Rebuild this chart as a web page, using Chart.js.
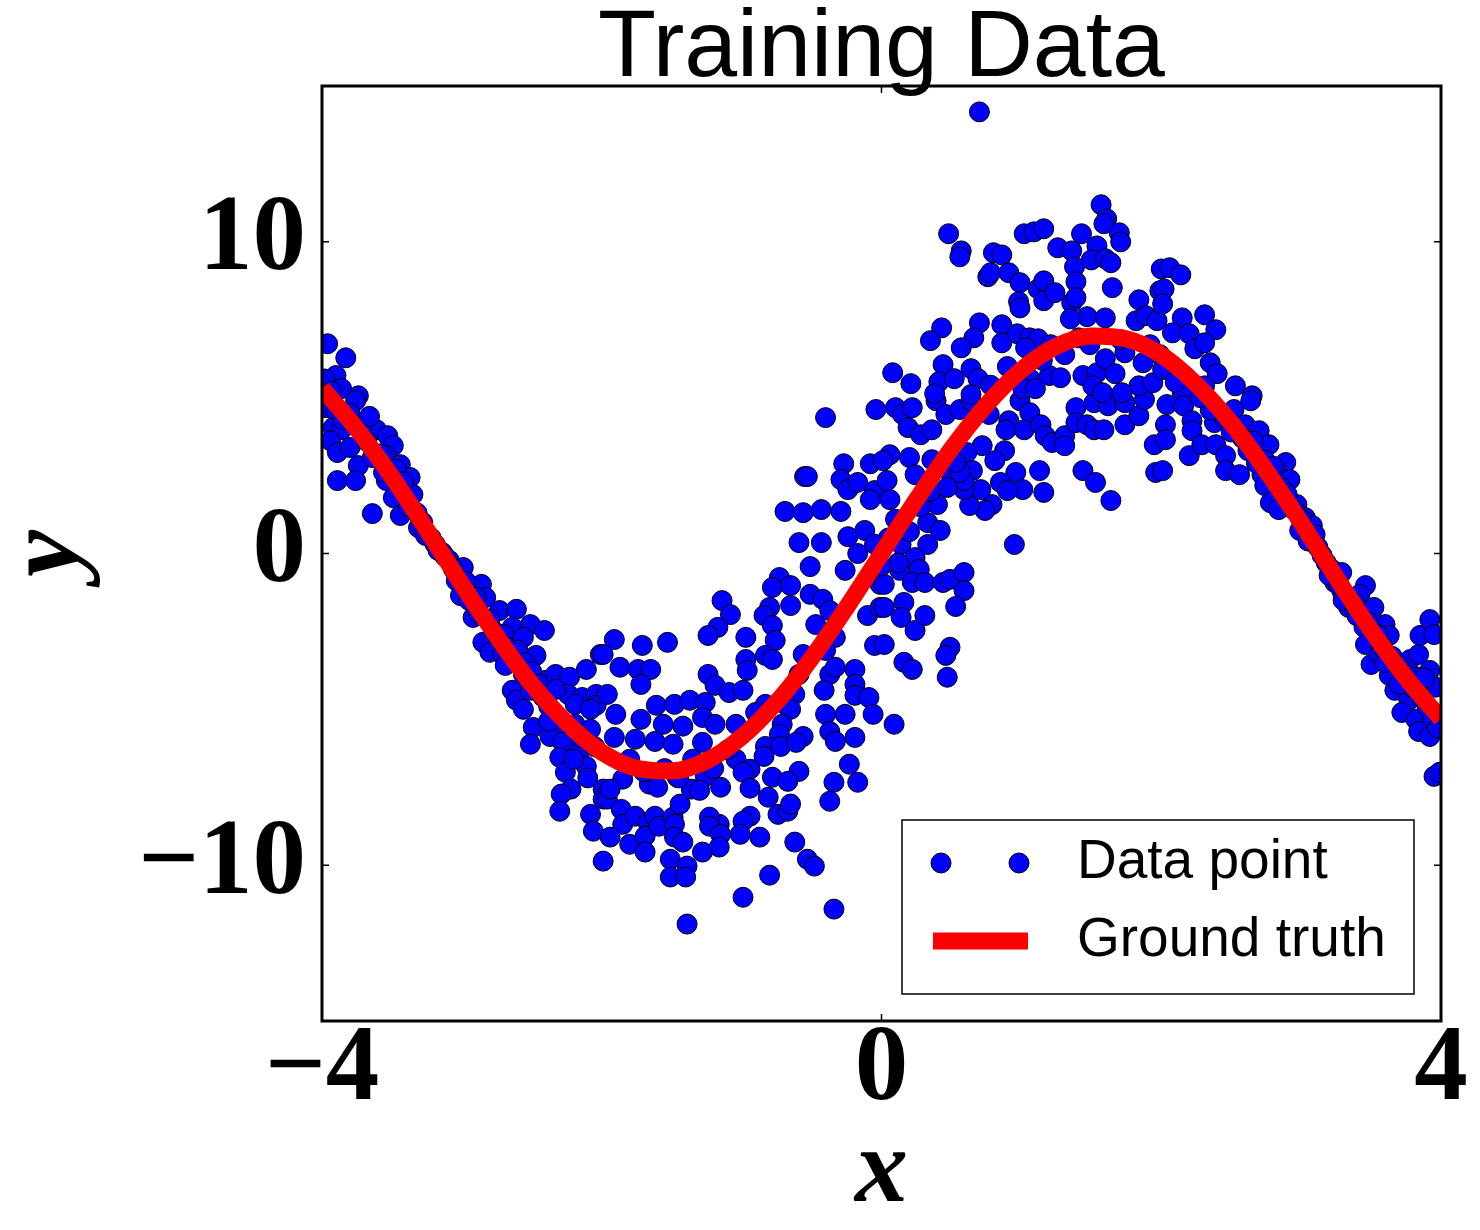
<!DOCTYPE html>
<html>
<head>
<meta charset="utf-8">
<title>Training Data</title>
<script src="https://cdn.jsdelivr.net/npm/chart.js@4.4.1/dist/chart.umd.min.js"></script>
<style>
  html, body { margin: 0; padding: 0; background: #fff; }
  #wrap { width: 1480px; height: 1230px; }
</style>
</head>
<body>
<div id="wrap"><canvas id="trainChart" width="1480" height="1230"></canvas></div>
<script>
// Ticks and labels
const xTicks = [-4, 0, 4];
const yTicks = [-10, 0, 10];
const legendLabels = ['Data point', 'Ground truth'];

// Ground truth curve
const truthX = [-4, -3.75, -3.5, -3.25, -3, -2.75, -2.5, -2.25, -2, -1.75, -1.5, -1.25, -1, -0.75, -0.5, -0.25,
  0, 0.25, 0.5, 0.75, 1, 1.25, 1.5, 1.75, 2, 2.25, 2.5, 2.75, 3, 3.25, 3.5, 3.75, 4];
const truthY = [5.30, 3.99, 2.46, 0.76, -0.99, -2.66, -4.19, -5.43, -6.37, -6.89, -6.98, -6.65, -5.89, -4.77, -3.36, -1.73,
  0, 1.73, 3.36, 4.77, 5.89, 6.65, 6.98, 6.89, 6.37, 5.43, 4.19, 2.66, 0.99, -0.76, -2.46, -3.99, -5.30];

// Noisy samples [x, y]
const samplePoints = [
  // x -4 .. -2
  [-3.96,6.73],[-3.83,6.28],[-3.90,5.71],[-3.86,5.29],[-3.74,5.06],[-3.97,4.68],[-3.90,4.58],[-3.76,4.90],
  [-3.92,4.04],[-3.86,3.97],[-3.94,3.62],[-3.89,3.24],[-3.80,3.40],[-3.74,2.82],[-3.89,2.34],[-3.76,2.34],
  [-3.61,3.97],[-3.53,3.78],[-3.49,3.46],[-3.54,3.14],[-3.64,3.08],[-3.44,2.85],[-3.37,2.44],[-3.54,2.34],
  [-3.35,1.89],[-3.49,1.79],[-3.64,1.28],[-3.44,1.22],[-3.31,0.83],[-3.26,0.58],[-3.19,0.29],[-3.14,0.03],
  [-3.09,-0.22],[-2.99,-0.45],[-3.04,-0.87],[-3.01,-1.35],[-2.86,-0.99],[-2.83,-1.41],[-2.92,-2.05],[-2.73,-1.83],
  [-2.61,-1.79],[-2.64,-2.37],[-2.51,-2.28],[-2.41,-2.47],[-2.85,-2.85],[-2.80,-3.17],[-2.71,-3.24],[-2.56,-2.69],
  [-2.47,-3.27],[-2.69,-3.59],[-2.56,-3.88],[-2.64,-4.39],[-2.61,-4.71],[-2.51,-4.39],[-2.40,-4.07],[-2.33,-3.88],
  [-2.23,-3.97],[-2.11,-3.72],[-2.01,-3.24],[-2.24,-4.52],[-2.14,-4.62],[-2.04,-4.52],[-2.04,-4.87],
  [-3.98,5.6],[-3.93,5.2],[-3.85,4.3],[-3.8,4.5],[-3.72,4.1],[-3.68,3.6],[-3.66,4.4],[-3.58,3.2],[-3.56,2.6],
  [-3.47,2.7],[-3.42,2.3],[-3.38,1.5],[-3.32,1.3],[-3.28,1.0],[-3.22,0.5],[-3.17,0.1],[-3.12,-0.1],[-3.06,-0.5],
  [-2.97,-0.9],[-2.95,-1.5],[-2.9,-1.4],[-2.88,-1.9],[-2.8,-2.1],[-2.77,-2.5],[-2.7,-2.6],[-2.68,-3.0],[-2.6,-3.1],
  [-2.55,-3.5],[-2.5,-3.8],[-2.45,-4.2],[-2.42,-4.6],[-2.38,-4.9],[-2.35,-5.2],[-2.3,-5.6],
  [-2.56,-5.0],[-2.49,-5.58],[-2.51,-6.12],[-2.37,-5.87],[-2.28,-6.06],[-2.30,-6.54],[-2.26,-7.02],[-2.22,-7.56],
  [-2.29,-7.72],[-2.30,-8.27],[-2.16,-6.35],[-2.08,-8.37],[-2.06,-8.91],[-1.99,-9.87],[-1.99,-7.56],[-1.99,-7.88],
  [-2.11,-6.83],[-2.38,-5.38],[-2.19,-5.48],[-2.08,-5.64],[-2.33,-4.36],[-2.19,-4.84],[-2.08,-5.0],[-2.15,-5.9],
  [-2.05,-6.2],[-2.2,-6.6],[-2.1,-7.2],
  // x -2 .. 0
  [-0.40,4.36],[-0.04,4.62],[-0.55,2.47],[-0.53,2.47],[-0.27,2.88],[-0.29,2.37],[-0.24,2.05],[-0.17,2.28],
  [-0.08,2.88],[-0.05,2.02],[-0.08,1.73],[-0.69,1.35],[-0.56,1.31],[-0.43,1.41],[-0.29,1.35],[-0.59,0.35],
  [-0.43,0.35],[-0.24,0.54],[-0.12,0.74],[-0.17,0.0],[-0.51,-0.42],[-0.26,-0.54],[-0.01,-0.99],[-0.73,-0.77],
  [-0.78,-1.09],[-0.65,-1.03],[-0.65,-1.67],[-0.51,-1.31],[-0.42,-1.47],[-0.80,-1.73],[-0.84,-1.99],[-0.78,-2.31],
  [-0.76,-2.79],[-0.83,-3.27],[-0.78,-3.40],[-1.14,-1.51],[-1.08,-1.96],[-1.17,-2.37],[-1.24,-2.63],[-0.97,-2.69],
  [-0.97,-3.40],[-0.96,-3.75],[-1.24,-3.88],[-1.19,-4.23],[-1.09,-4.46],[-0.99,-4.39],[-1.91,-2.76],[-1.99,-3.24],
  [-1.71,-2.95],[-1.53,-2.85],[-1.87,-3.65],[-1.74,-3.72],[-1.65,-3.72],[-1.72,-4.20],[-1.96,-4.52],[-1.61,-4.87],
  [-1.48,-4.84],[-1.37,-4.71],[-1.26,-4.78],[-0.56,-3.24],[-0.47,-2.28],[-0.37,-1.83],[-0.33,-2.69],[-0.40,-3.11],
  [-0.59,-3.88],[-0.37,-3.88],[-0.41,-4.39],[-0.33,-3.65],[-0.19,-3.72],[-0.19,-4.20],[-0.19,-4.55],[-0.09,-4.62],
  [-0.05,-2.95],[-0.10,-1.99],[-0.01,-1.73],[-0.62,-4.52],[-0.83,-4.84],[-0.69,-4.84],
  [-1.90,-5.16],[-1.72,-5.32],[-1.56,-5.48],[-1.42,-5.54],[-1.28,-5.26],[-1.19,-5.48],[-1.91,-5.90],[-1.76,-5.96],
  [-1.62,-6.03],[-1.49,-6.12],[-1.28,-6.06],[-1.04,-5.48],[-0.90,-5.10],[-0.65,-5.0],[-0.71,-5.48],[-0.73,-5.80],
  [-0.56,-5.87],[-0.40,-5.16],[-0.26,-5.16],[-0.06,-5.16],[-0.37,-5.71],[-0.33,-6.03],[-0.19,-5.90],[-0.83,-6.19],
  [-0.84,-6.51],[-0.72,-6.19],[-0.61,-6.06],[-1.04,-6.60],[-0.94,-6.92],[-0.99,-7.02],[-0.59,-6.99],[-0.78,-7.18],
  [-0.67,-7.31],[-0.23,-6.76],[-0.34,-7.34],[-0.17,-7.34],[-0.37,-7.95],[-0.94,-7.53],[-0.81,-7.82],[-0.74,-8.37],
  [-0.67,-8.27],[-0.65,-8.04],[-0.94,-8.43],[-0.99,-8.59],[-1.01,-9.01],[-0.87,-9.10],[-1.16,-8.69],[-1.23,-8.46],
  [-1.23,-8.75],[-1.15,-9.01],[-1.16,-9.42],[-1.28,-9.58],[-0.62,-9.26],[-0.53,-9.81],[-0.48,-10.03],[-0.80,-10.32],
  [-0.99,-11.03],[-1.39,-11.89],[-0.34,-11.41],[-1.96,-7.88],[-1.86,-8.21],[-1.85,-8.69],[-1.80,-9.33],[-1.94,-9.10],
  [-1.76,-8.43],[-1.67,-8.62],[-1.69,-9.07],[-1.69,-9.58],[-1.62,-8.43],[-1.59,-8.75],[-1.49,-8.46],[-1.48,-8.69],
  [-1.48,-9.10],[-1.42,-9.26],[-1.51,-9.81],[-1.39,-10.03],[-1.51,-10.38],[-1.40,-10.38],[-1.66,-7.40],[-1.44,-8.04],
  [-1.36,-7.56],[-1.26,-7.15],[-1.85,-7.24],[-1.94,-7.56],[-1.46,-7.18],
  [-1.55,-6.9],[-1.45,-7.2],[-1.35,-6.6],[-1.2,-6.9],[-1.1,-6.3],[-1.6,-7.5],[-1.8,-6.6],[-1.7,-7.0],[-1.3,-7.6],[-1.15,-7.5],
  // x 0 .. 2
  [0.10,4.68],[0.15,4.46],[0.22,4.68],[0.19,4.04],[0.28,3.81],[0.36,3.97],[0.39,4.90],[0.46,4.46],[0.56,4.62],
  [0.64,4.90],[0.77,4.46],[0.91,4.26],[0.89,3.97],[0.99,4.90],[1.06,4.52],[1.02,3.97],[1.14,4.13],[1.17,3.78],
  [1.22,3.56],[1.31,3.78],[1.31,3.46],[1.39,4.68],[1.39,4.20],[1.47,4.13],[1.52,4.84],[1.52,3.97],[1.59,3.97],
  [1.62,4.74],[1.74,4.13],[1.74,4.84],[1.84,4.42],[1.88,4.94],[1.95,3.49],[1.96,2.60],[1.44,2.66],[1.53,2.28],
  [1.64,1.70],[1.13,2.66],[1.16,1.96],[0.96,2.60],[1.01,2.05],[0.85,2.28],[0.90,2.02],[0.79,1.57],[0.74,1.38],
  [0.88,3.30],[0.81,2.98],[0.72,3.46],[0.61,3.24],[0.65,2.66],[0.71,2.05],[0.63,1.54],[0.59,2.05],[0.59,2.34],
  [0.49,2.60],[0.56,2.60],[0.47,2.12],[0.40,1.57],[0.53,2.92],[0.36,3.01],[0.06,3.17],[0.20,3.08],[0.01,2.98],
  [0.24,2.53],[0.04,2.34],[0.06,1.73],[0.33,0.99],[0.42,0.74],[0.33,0.29],[0.14,0.29],[0.24,-0.13],[0.27,-0.51],
  [0.13,-0.54],[0.22,-0.93],[0.31,-0.93],[0.44,-0.93],[0.49,-0.83],[0.59,-0.61],[0.59,-1.19],[0.53,-1.70],
  [0.02,-0.99],[0.02,-1.73],[0.16,-1.57],[0.14,-2.05],[0.24,-2.47],[0.31,-1.99],[0.02,-2.92],[0.49,-3.01],
  [0.46,-3.27],[0.16,-3.49],[0.22,-3.72],[0.47,-3.97],[0.95,0.29],[0.09,-5.48],
  [0.05,0.5],[0.1,1.1],[0.12,-0.3],[0.2,0.7],[0.28,1.5],[0.35,2.0],[0.0,-0.4],[-0.05,0.3],
  [0.70,14.17],[1.57,11.19],[1.61,10.74],[1.59,10.58],[1.70,10.29],[1.71,10.0],[0.48,10.26],[0.57,9.71],[0.56,9.52],
  [1.02,10.26],[1.09,10.32],[1.16,10.42],[1.43,10.26],[1.26,9.81],[1.36,9.71],[1.38,9.20],[1.39,8.72],[1.54,9.87],
  [1.50,9.42],[1.60,9.46],[1.64,9.33],[0.80,9.65],[0.86,9.58],[0.76,8.88],[0.78,9.01],[0.91,9.01],[0.99,8.69],
  [1.12,8.49],[1.16,8.75],[1.16,8.11],[1.24,8.37],[1.36,8.04],[1.39,8.21],[1.65,8.53],[1.84,8.14],[1.99,8.43],
  [2.0,9.13],[0.98,8.08],[0.99,7.88],[0.43,7.24],[0.70,7.40],[0.86,7.34],[0.35,6.83],[0.66,6.92],[0.57,6.60],
  [0.86,6.76],[0.97,7.05],[1.06,6.92],[1.12,6.89],[1.03,6.60],[1.47,7.60],[1.60,7.56],[1.35,7.53],[1.82,7.47],
  [1.89,7.63],[1.97,7.47],[0.08,5.80],[0.21,5.45],[0.44,6.06],[0.41,5.51],[0.52,5.61],[0.64,5.93],[0.69,5.61],
  [0.38,5.13],[0.64,5.10],[1.44,5.71],[1.54,5.80],[1.60,6.25],[1.67,5.77],[1.74,6.44],[1.87,6.12],[1.84,5.38],
  [1.94,5.48],[1.51,5.38],[1.58,5.16],[1.72,5.16],[1.20,5.71],[1.28,5.64],[1.06,5.61],[1.01,5.29],[1.10,5.29],
  [1.41,6.92],[1.21,6.70],[1.31,6.38],[1.49,6.70],[1.71,6.86],[1.92,6.70],[1.99,6.38],[0.9,6.0],[0.78,5.4],[1.15,6.2],
  // x 2 .. 4
  [2.06,9.17],[2.14,8.94],[2.02,8.49],[2.01,8.01],[2.15,7.56],[2.08,7.08],[2.20,7.05],[2.31,7.66],[2.39,7.18],
  [2.24,6.57],[2.31,6.76],[2.35,6.12],[2.40,5.77],[2.53,5.38],[2.65,5.06],[2.31,5.38],[2.15,5.16],[2.01,5.9],
  [2.04,4.78],[2.16,4.74],[2.22,4.26],[2.22,3.94],[2.03,4.13],[2.03,3.65],[2.01,2.66],[2.20,3.14],[2.29,3.49],
  [2.39,3.49],[2.38,4.20],[2.45,4.36],[2.52,4.62],[2.64,4.90],[2.46,3.14],[2.46,2.66],[2.56,2.53],[2.60,4.13],
  [2.70,3.94],[2.77,3.49],[2.71,3.01],[2.89,2.92],[2.72,2.53],[2.83,2.60],[2.92,2.37],[2.74,2.18],[2.78,1.63],
  [2.84,1.41],[2.97,1.57],[2.99,0.74],[3.03,1.15],[3.08,0.90],[3.10,0.61],[3.15,-0.06],[3.22,-0.51],[3.29,-0.61],
  [3.24,-0.93],[3.29,-1.19],[3.46,-1.03],[3.42,-1.31],[3.52,-1.73],[3.34,-1.73],[3.45,-2.37],[3.60,-2.28],
  [3.63,-2.63],[3.46,-2.92],[3.50,-3.56],[3.56,-3.24],[3.63,-3.91],[3.67,-4.39],[3.77,-4.71],[3.78,-3.40],
  [3.84,-3.24],[3.85,-2.63],[3.92,-2.12],[3.95,-2.60],[3.92,-3.75],[3.96,-4.29],[3.84,-3.97],[3.72,-4.07],
  [3.72,-5.10],[3.82,-5.32],[3.84,-5.71],[3.92,-5.87],[3.95,-7.15],[3.99,-7.02],
  [3.05,0.4],[3.12,0.2],[3.18,-0.3],[3.2,-0.7],[3.27,-1.0],[3.3,-1.5],[3.38,-1.6],[3.4,-2.0],[3.48,-2.2],
  [3.55,-2.6],[3.58,-3.0],[3.65,-3.3],[3.7,-3.6],[3.75,-3.9],[3.8,-4.3],[3.86,-4.6],[3.9,-4.9],[3.94,-5.3],
  [3.98,-5.6],[3.88,-4.0],[3.7,-4.2],[3.6,-3.5],[2.58,3.7],[2.62,3.3],[2.66,3.6],[2.74,3.0],[2.8,2.8],
  [2.86,2.1],[2.9,1.9],[2.95,1.4],[3.0,1.1],[2.68,2.9],[2.5,3.9],[2.35,4.6],[2.28,5.0],[2.1,5.5]
];

function fmtTick(v) {
  return v < 0 ? '\u2212' + Math.abs(v) : String(v);
}

// Frame round the plot and small inward ticks on all four sides
const frameTicks = {
  id: 'frameTicks',
  afterDraw(chart) {
    const { ctx, chartArea: a, scales } = chart;
    ctx.save();
    ctx.strokeStyle = '#000';
    ctx.lineWidth = 1.5;
    xTicks.forEach(v => {
      const px = scales.x.getPixelForValue(v);
      ctx.beginPath();
      ctx.moveTo(px, a.bottom); ctx.lineTo(px, a.bottom - 7);
      ctx.moveTo(px, a.top); ctx.lineTo(px, a.top + 7);
      ctx.stroke();
    });
    yTicks.forEach(v => {
      const py = scales.y.getPixelForValue(v);
      ctx.beginPath();
      ctx.moveTo(a.left, py); ctx.lineTo(a.left + 7, py);
      ctx.moveTo(a.right, py); ctx.lineTo(a.right - 7, py);
      ctx.stroke();
    });
    ctx.lineWidth = 3;
    ctx.strokeRect(a.left, a.top, a.right - a.left, a.bottom - a.top);
    ctx.restore();
  }
};

// Boxed legend in the lower right corner, like matplotlib's
const boxLegend = {
  id: 'boxLegend',
  afterDatasetsDraw(chart) {
    const { ctx, chartArea: a } = chart;
    const w = 512, h = 174;
    const x0 = a.right - 27 - w, y0 = a.bottom - 27 - h;
    const row1 = y0 + 43, row2 = y0 + 121;
    ctx.save();
    ctx.fillStyle = '#fff';
    ctx.fillRect(x0, y0, w, h);
    ctx.strokeStyle = '#000';
    ctx.lineWidth = 1.5;
    ctx.strokeRect(x0, y0, w, h);
    [x0 + 39, x0 + 117].forEach(cx => {
      ctx.beginPath();
      ctx.arc(cx, row1, 10, 0, Math.PI * 2);
      ctx.fillStyle = '#0000ff';
      ctx.fill();
      ctx.lineWidth = 1;
      ctx.strokeStyle = '#000';
      ctx.stroke();
    });
    ctx.strokeStyle = '#ff0000';
    ctx.lineWidth = 17;
    ctx.beginPath();
    ctx.moveTo(x0 + 31, row2);
    ctx.lineTo(x0 + 126, row2);
    ctx.stroke();
    ctx.fillStyle = '#000';
    ctx.font = '55px "Liberation Sans", Arial, sans-serif';
    ctx.textAlign = 'left';
    ctx.textBaseline = 'middle';
    ctx.fillText(legendLabels[0], x0 + 175, row1);
    ctx.fillText(legendLabels[1], x0 + 175, row2);
    ctx.restore();
  }
};

const tickFont = { family: '"Liberation Serif", "Times New Roman", serif', weight: 'bold', size: 107 };

const ctx = document.getElementById('trainChart').getContext('2d');
const trainChart = new Chart(ctx, {
  data: {
    datasets: [{
      type: 'line',
      label: legendLabels[1],
      data: truthX.map((x, i) => ({ x: x, y: truthY[i] })),
      borderColor: '#ff0000',
      borderWidth: 17,
      pointRadius: 0,
      fill: false,
      cubicInterpolationMode: 'monotone',
      clip: 0,
      order: 0
    }, {
      type: 'scatter',
      label: legendLabels[0],
      data: samplePoints.map(p => ({ x: p[0], y: p[1] })),
      pointRadius: 10,
      pointBackgroundColor: '#0000ff',
      pointBorderColor: '#000',
      pointBorderWidth: 1,
      clip: 0,
      order: 1
    }]
  },
  options: {
    responsive: false,
    animation: false,
    devicePixelRatio: 1,
    events: [],
    layout: { padding: { left: 0, right: 39, top: 0, bottom: 0 } },
    plugins: {
      legend: { display: false },
      tooltip: { enabled: false },
      title: {
        display: true,
        fullSize: false,
        text: 'Training Data',
        color: '#000',
        font: { family: '"Liberation Sans", Arial, sans-serif', size: 95, weight: 'normal', lineHeight: 0.758 },
        padding: { top: 14, bottom: 0 }
      }
    },
    scales: {
      x: {
        type: 'linear',
        min: -4,
        max: 4,
        afterBuildTicks: s => { s.ticks = xTicks.map(v => ({ value: v })); },
        afterFit: s => { s.height = 209; },
        grid: { display: false, drawTicks: false },
        border: { display: false },
        ticks: { callback: fmtTick, color: '#000', font: tickFont, padding: -14, maxRotation: 0 },
        title: {
          display: true,
          text: 'x',
          color: '#000',
          font: { family: '"Liberation Serif", "Times New Roman", serif', style: 'italic', weight: 'bold', size: 106, lineHeight: 1 },
          padding: { top: 0, bottom: 3 }
        }
      },
      y: {
        type: 'linear',
        min: -15,
        max: 15,
        afterBuildTicks: s => { s.ticks = yTicks.map(v => ({ value: v })); },
        afterFit: s => { s.width = 322; },
        grid: { display: false, drawTicks: false },
        border: { display: false },
        ticks: { callback: fmtTick, color: '#000', font: tickFont, padding: 16 },
        title: {
          display: true,
          text: 'y',
          color: '#000',
          font: { family: '"Liberation Serif", "Times New Roman", serif', style: 'italic', weight: 'bold', size: 106, lineHeight: 0.8 },
          padding: { top: 7, bottom: 0 }
        }
      }
    }
  },
  plugins: [boxLegend, frameTicks]
});
</script>
</body>
</html>
